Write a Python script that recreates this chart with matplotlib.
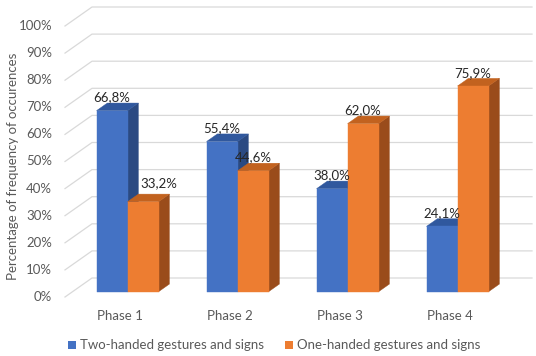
import matplotlib.pyplot as plt
from matplotlib.patches import Polygon, Rectangle

plt.rcParams['font.family'] = ['Lato', 'DejaVu Sans']

phases = ["Phase 1", "Phase 2", "Phase 3", "Phase 4"]
two_handed = [66.8, 55.4, 38.0, 24.1]
one_handed = [33.2, 44.6, 62.0, 75.9]
series_names = ["Two-handed gestures and signs", "One-handed gestures and signs"]
y_ticks = list(range(0, 101, 10))

# face colours: front, top, side
blue = ("#4472C4", "#30589E", "#2B4A82")
orange = ("#ED7D31", "#C2621F", "#9A4C1B")

# fake 3D geometry (pixels per category / per percent, oblique depth offset)
PX_X, PX_Y = 110.0, 2.71
DX, DY = 27 / PX_X, 19 / PX_Y
Z0, Z1 = 0.28, 0.68
BAR_W = 0.282


def proj(x, y, z):
    return (x + z * DX, y + z * DY)


def px2data(px, py):
    return ((px - 65) / PX_X - 0.5, (297 - py) / PX_Y)


def draw_bar(ax, x0, x1, h, cols):
    front = [proj(x0, 0, Z0), proj(x1, 0, Z0), proj(x1, h, Z0), proj(x0, h, Z0)]
    top = [proj(x0, h, Z0), proj(x1, h, Z0), proj(x1, h, Z1), proj(x0, h, Z1)]
    side = [proj(x1, 0, Z0), proj(x1, 0, Z1), proj(x1, h, Z1), proj(x1, h, Z0)]
    for pts, c in ((side, cols[2]), (top, cols[1]), (front, cols[0])):
        ax.add_patch(Polygon(pts, closed=True, fc=c, ec=c, lw=0.3, zorder=3))


def fmt(v):
    return f"{v:.1f}".replace(".", ",") + "%"


fig = plt.figure(figsize=(5.36, 3.56), dpi=100)
ax = fig.add_axes([0, 0, 1, 1])
ax.set_xlim(px2data(0, 0)[0], px2data(536, 0)[0])
ax.set_ylim(px2data(0, 356)[1], px2data(0, 0)[1])
ax.axis("off")

grid_c = "#D9D9D9"
left, right = -0.5, len(phases) - 0.5
for t in y_ticks:
    a = proj(left, t, 0)
    b = proj(left, t, 1)
    c = proj(right, t, 1)
    ax.plot([a[0], b[0], c[0]], [a[1], b[1], c[1]], color=grid_c, lw=0.9, zorder=1)
    ax.text(left - 13 / PX_X, t, f"{t}%", ha="right", va="center",
            fontsize=9.5, color="#595959")

label_nudge = {(1, 0): (0.145, 1.8)}
for i, name in enumerate(phases):
    for s, (vals, cols) in enumerate(((two_handed, blue), (one_handed, orange))):
        x0 = i - BAR_W + s * BAR_W
        x1 = x0 + BAR_W
        h = vals[i]
        draw_bar(ax, x0, x1, h, cols)
        lx, ly = proj((x0 + x1) / 2, h, Z0)
        nx, ny = label_nudge.get((s, i), (0, 0))
        ax.text(lx + nx, ly + 4.9 + ny, fmt(h), ha="center", va="center",
                fontsize=9.5, color="#262626", zorder=5)
    ax.text(i, px2data(0, 316)[1], name, ha="center", va="center",
            fontsize=9.5, color="#595959")

# legend
for (sq_px, txt_px), name, cols in zip(((68, 80), (285, 297)), series_names, (blue, orange)):
    x, y = px2data(sq_px, 349)
    ax.add_patch(Rectangle((x, y), 8 / PX_X, 8 / PX_Y, fc=cols[0], ec="none"))
    tx, ty = px2data(txt_px, 345)
    ax.text(tx, ty, name, ha="left", va="center", fontsize=9.5, color="#595959")

fig.text(13 / 536, 1 - 166 / 356, "Percentage of frequency of occurences",
         rotation=90, ha="center", va="center", fontsize=9.5, color="#595959")

fig.savefig("out.png", dpi=100)
